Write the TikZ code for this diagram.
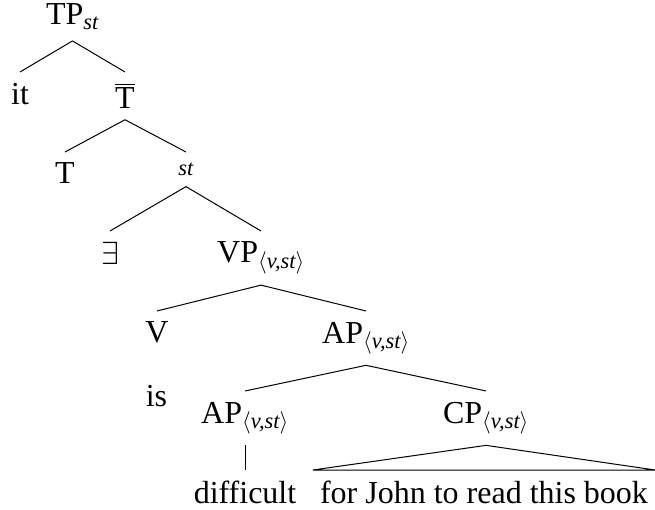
\RequirePackage{fix-cm}
\documentclass[tikz,border=0pt]{standalone}
\usepackage{fontspec}
\setmainfont{Liberation Serif}
\usepackage{amsmath}
\usepackage{tikz}
\usetikzlibrary{positioning}
\tikzstyle{cat} = [anchor=north, inner sep=10.7pt, font=\fontsize{32}{38}\selectfont]
\tikzstyle{small} = [anchor=north, inner sep=10.7pt, font=\fontsize{22.4}{27}\selectfont]
\tikzstyle{branch} = [line width=1pt]
\newcommand{\typ}[1]{$_{\langle\textit{#1}\rangle}$}

\begin{document}
\begin{tikzpicture}[x=1pt, y=-1pt]
    \useasboundingbox (0, 0) rectangle (655, 510);

    % Root
    \node[cat, anchor=base] (tp) at (72.5, 25) {TP$_{\textit{st}}$};

    % Subject and T-bar
    \node[cat] (it) at (20, 72) {it};
    \node[cat] (tbar) at (125, 72) {$\overline{\mbox{T}}$};

    % T and its complement
    \node[cat] (t) at (65, 152) {T};
    \node[small] (st) at (186, 152) {\textit{st}};

    % Existential closure and VP
    \node[cat] (ex) at (110, 231) {$\exists$};
    \node[cat] (vp) at (261, 231) {VP\typ{v,st}};

    % V and AP
    \node[cat] (v) at (157, 311) {V};
    \node[cat] (ap) at (366, 311) {AP\typ{v,st}};
    \node[cat, anchor=base] (is) at (156.5, 406) {is};

    % Inner AP and CP
    \node[cat] (apin) at (245, 391) {AP\typ{v,st}};
    \node[cat] (cp) at (486, 391) {CP\typ{v,st}};

    % Leaves
    \node[cat] (difficult) at (245, 470) {difficult};
    \node[cat, inner xsep=7pt] (clause) at (484, 470) {for John to read this book};

    % Branches
    \foreach \a/\b in {tp/it, tp/tbar, tbar/t, tbar/st, st/ex, st/vp, vp/v, vp/ap, ap/apin, ap/cp, apin/difficult} {
        \draw[branch] (\a.south) -- (\b.north);
    }
    \draw[branch] (cp.south) -- (clause.north west) -- (clause.north east) -- cycle;

\end{tikzpicture}
\end{document}
